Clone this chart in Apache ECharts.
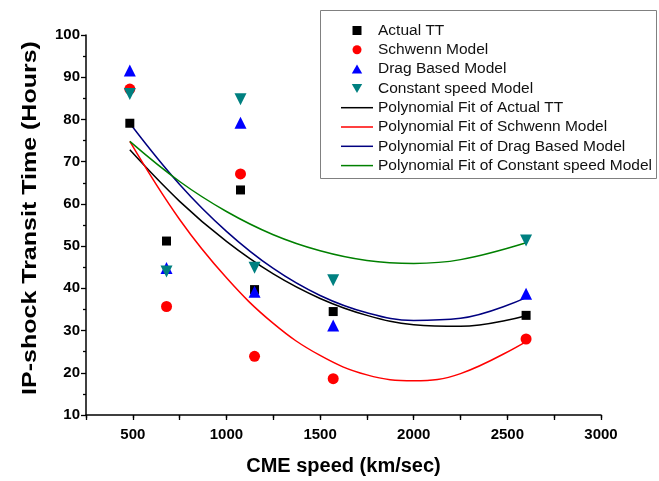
<!DOCTYPE html>
<html>
<head>
<meta charset="utf-8">
<script src="https://cdn.jsdelivr.net/npm/echarts@6/dist/echarts.min.js"></script>
<style>
  html, body { margin: 0; padding: 0; background: #fff; }
  #main { width: 659px; height: 481px; }
</style>
</head>
<body>
<div id="main"></div>
<script>
// CME speed of each event (km/sec)
var speeds = [484, 680, 1075, 1150, 1570, 2600];
// transit times (hours)
var actualTT = [79.1, 51.2, 63.3, 39.7, 34.5, 33.6];
var schwenn = [87.2, 35.7, 67.1, 23.9, 18.6, 28.0];
var dragBased = [91.6, 44.8, 79.2, 39.2, 31.2, 38.7];
var constSpeed = [86.0, 44.0, 84.8, 44.9, 41.9, 51.3];

// points along the fit curves
var fitX = [484, 750, 1000, 1250, 1500, 1750, 2000, 2250, 2600];
var fitActual = [72.8, 60.6, 51.1, 43.4, 37.6, 33.6, 31.4, 31.0, 33.5];
var fitSchwenn = [74.8, 56.3, 42.5, 31.7, 24.1, 19.5, 18.1, 19.8, 27.4];
var fitDrag = [79.1, 64.6, 53.5, 44.7, 38.3, 34.2, 32.4, 32.9, 37.8];
var fitConst = [74.8, 65.3, 58.2, 52.7, 48.9, 46.6, 45.9, 46.8, 50.8];

function pairs(xs, ys) {
    var out = [];
    for (var i = 0; i < xs.length; i++) out.push([xs[i], ys[i]]);
    return out;
}

var square = 'path://M0,0 L10,0 L10,10 L0,10 Z';
var upTri = 'path://M5,0 L10,8.66 L0,8.66 Z';
var downTri = 'path://M0,0 L10,0 L5,8.66 Z';
var lineIcon = 'path://M0,0 L32,0 L32,1.5 L0,1.5 Z';
var font = 'Liberation Sans, Arial, sans-serif';

function scatter(name, ys, symbol, size, color) {
    return {
        name: name, type: 'scatter', data: pairs(speeds, ys),
        symbol: symbol, symbolSize: size,
        itemStyle: {color: color, opacity: 1}, z: 3
    };
}
function fit(name, ys, color) {
    return {
        name: name, type: 'line', data: pairs(fitX, ys),
        symbol: 'none', smooth: 0.4,
        lineStyle: {color: color, width: 1.5},
        itemStyle: {color: color}, z: 2
    };
}

var myChart = echarts.init(document.getElementById('main'));
var option = {
    animation: false,
    backgroundColor: '#fff',
    textStyle: {fontFamily: font},
    grid: {left: 86, right: 58, top: 35, bottom: 62},
    graphic: [{
        type: 'rect',
        shape: {x: 320.5, y: 10.5, width: 336, height: 168},
        style: {fill: 'none', stroke: '#808080', lineWidth: 1},
        z: 10
    }, {
        // y axis title, a little stretched along its length as in the original
        type: 'text', x: 30, y: 218, rotation: Math.PI / 2, scaleX: 1.25,
        style: {
            text: 'IP-shock Transit Time (Hours)',
            font: 'bold 20px Liberation Sans, Arial, sans-serif',
            fill: '#000', align: 'center', verticalAlign: 'middle'
        }
    }],
    legend: {
        orient: 'vertical', left: 341, top: 22.5, padding: 0,
        itemWidth: 32, itemHeight: 9, itemGap: 3.3,
        symbolKeepAspect: true,
        textStyle: {fontSize: 15.5, color: '#111', fontFamily: font},
        data: [
            {name: 'Actual TT', icon: square},
            {name: 'Schwenn Model', icon: 'circle'},
            {name: 'Drag Based Model', icon: upTri},
            {name: 'Constant speed Model', icon: downTri},
            {name: 'Polynomial Fit of Actual TT', icon: lineIcon},
            {name: 'Polynomial Fit of Schwenn Model', icon: lineIcon},
            {name: 'Polynomial Fit of Drag Based Model', icon: lineIcon},
            {name: 'Polynomial Fit of Constant speed Model', icon: lineIcon}
        ]
    },
    xAxis: [{
        type: 'value', min: 250, max: 3000, interval: 250,
        name: 'CME speed (km/sec)', nameLocation: 'middle', nameGap: 41,
        nameTextStyle: {fontSize: 20, fontWeight: 'bold', color: '#000'},
        axisLine: {lineStyle: {color: '#000', width: 1.5}},
        axisTick: {
            length: 5, lineStyle: {color: '#000', width: 1.3},
            interval: function (i, v) { return v % 500 === 0; }
        },
        axisLabel: {
            fontSize: 15, fontWeight: 'bold', color: '#000', margin: 12,
            formatter: function (v) { return v % 500 === 0 ? v : ''; }
        },
        splitLine: {show: false}
    }, {
        type: 'value', min: 250, max: 3000, interval: 250, position: 'bottom',
        axisLine: {show: false},
        axisTick: {
            length: 3, lineStyle: {color: '#000', width: 1.3},
            interval: function (i, v) { return v % 500 !== 0 && v !== 250; }
        },
        axisLabel: {show: false},
        splitLine: {show: false}
    }],
    yAxis: {
        type: 'value', min: 10, max: 100, interval: 10,
        axisLine: {show: true, lineStyle: {color: '#000', width: 1.5}},
        axisTick: {length: 5, lineStyle: {color: '#000', width: 1.3}},
        minorTick: {show: true, splitNumber: 2, length: 3, lineStyle: {color: '#000', width: 1.3}},
        axisLabel: {fontSize: 15, fontWeight: 'bold', color: '#000', margin: 6},
        splitLine: {show: false}
    },
    series: [
        scatter('Actual TT', actualTT, 'rect', 9, '#000000'),
        scatter('Schwenn Model', schwenn, 'circle', 11, '#ff0000'),
        scatter('Drag Based Model', dragBased, upTri, 12, '#0000ff'),
        scatter('Constant speed Model', constSpeed, downTri, 12, '#008080'),
        fit('Polynomial Fit of Actual TT', fitActual, '#000000'),
        fit('Polynomial Fit of Schwenn Model', fitSchwenn, '#ff0000'),
        fit('Polynomial Fit of Drag Based Model', fitDrag, '#000080'),
        fit('Polynomial Fit of Constant speed Model', fitConst, '#008000')
    ]
};
myChart.setOption(option);
window.onresize = myChart.resize;
</script>
</body>
</html>
